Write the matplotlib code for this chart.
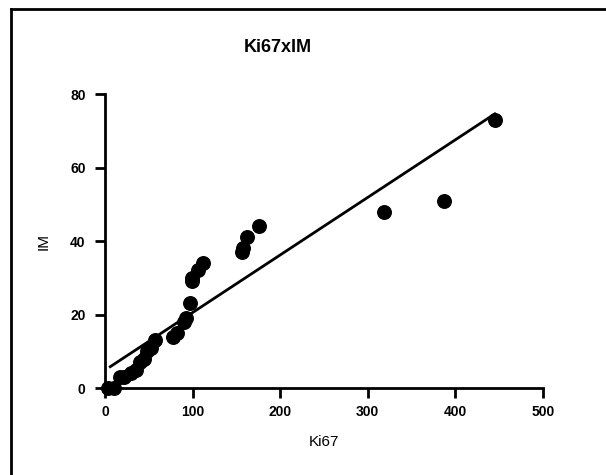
import matplotlib.pyplot as plt
from matplotlib.lines import Line2D

plt.rcParams["font.family"] = ["Liberation Sans", "DejaVu Sans"]

ki67 = [3, 10, 17, 22, 30, 35, 40, 44, 48, 53, 57, 78, 82, 90, 93, 97,
        99, 99, 106, 112, 156, 158, 162, 176, 319, 387, 445]
im = [0, 0, 3, 3, 4, 5, 7, 8, 10, 11, 13, 14, 15, 18, 19, 23,
      29, 30, 32, 34, 37, 38, 41, 44, 48, 51, 73]

# regression line as drawn in the picture
fit_x = [6, 445]
fit_y = [5.8, 74.6]

x_ticks = [0, 100, 200, 300, 400, 500]
y_ticks = [0, 20, 40, 60, 80]

fig = plt.figure(figsize=(6.06, 4.75), dpi=100)
ax = fig.add_axes([105 / 606, 1 - 388 / 475, 438 / 606, 294 / 475])

ax.scatter(ki67, im, s=95, color="black", zorder=3, clip_on=False)
ax.plot(fit_x, fit_y, color="black", linewidth=2, clip_on=False)

ax.set_xlim(0, 500)
ax.set_ylim(0, 80)
ax.set_xticks(x_ticks)
ax.set_yticks(y_ticks)
for side in ["top", "right"]:
    ax.spines[side].set_visible(False)
for side in ["left", "bottom"]:
    ax.spines[side].set_linewidth(2)
ax.tick_params(direction="out", length=7, width=2, labelsize=10)
ax.tick_params(axis="y", pad=7)
ax.tick_params(axis="x", pad=5)
for lab in ax.get_xticklabels() + ax.get_yticklabels():
    lab.set_fontweight("bold")

ax.set_xlabel("Ki67", fontsize=11, labelpad=12)
ax.set_ylabel("IM", fontsize=11, labelpad=14)
fig.text(278 / 606, 1 - 48 / 475, "Ki67xIM", fontsize=13, fontweight="bold",
         ha="center", va="center")

# frame lines (top and left) around the figure
fig.add_artist(Line2D([11 / 606, 11 / 606], [0, 1 - 9 / 475], color="black", linewidth=2))
fig.add_artist(Line2D([11 / 606, 1], [1 - 9 / 475, 1 - 9 / 475], color="black", linewidth=2))

fig.savefig("out.png", dpi=100)
plt.close(fig)
